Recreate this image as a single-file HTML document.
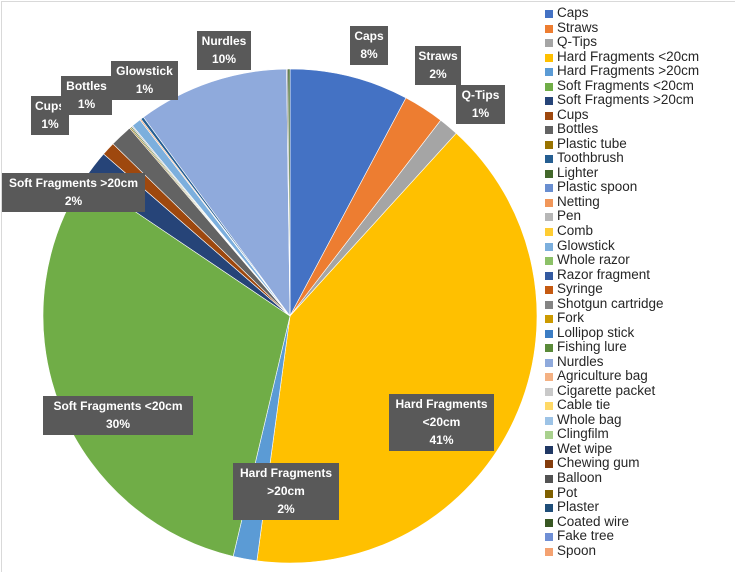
<!DOCTYPE html>
<html><head><meta charset="utf-8"><style>
html,body{margin:0;padding:0;background:#fff;}
body{width:735px;height:568px;overflow:hidden;position:relative;font-family:"Liberation Sans",sans-serif;}
#frame{position:absolute;left:1px;top:1px;width:740px;height:570px;border-left:1px solid #d9d9d9;border-top:1px solid #d9d9d9;}
.lb{position:absolute;background:#595959;color:#fff;font-weight:bold;font-size:12px;line-height:18px;text-align:center;white-space:nowrap;overflow:hidden;}
#leg{position:absolute;left:545px;top:6px;font-size:13.5px;color:#262626;}
#leg div{height:14.54px;line-height:14.54px;position:relative;padding-left:12px;white-space:nowrap;}
#leg span{position:absolute;left:0;top:4px;width:8px;height:8px;}
</style></head><body>
<div id="frame"></div>
<svg id="pie" width="735" height="568" style="position:absolute;left:0;top:0"></svg>
<div class="lb" style="left:350px;top:26px;width:38px;height:38px;padding-top:1px">Caps<br>8%</div>
<div class="lb" style="left:415px;top:46px;width:46px;height:38px;padding-top:1px">Straws<br>2%</div>
<div class="lb" style="left:456px;top:85px;width:49px;height:38px;padding-top:1px">Q-Tips<br>1%</div>
<div class="lb" style="left:197px;top:31px;width:54px;height:38px;padding-top:1px">Nurdles<br>10%</div>
<div class="lb" style="left:31px;top:96px;width:38px;height:38px;padding-top:1px">Cups<br>1%</div>
<div class="lb" style="left:61px;top:76px;width:51px;height:38px;padding-top:1px">Bottles<br>1%</div>
<div class="lb" style="left:111px;top:61px;width:67px;height:38px;padding-top:1px">Glowstick<br>1%</div>
<div class="lb" style="left:2px;top:173px;width:143px;height:38px;padding-top:1px">Soft Fragments &gt;20cm<br>2%</div>
<div class="lb" style="left:43px;top:396px;width:150px;height:38px;padding-top:1px">Soft Fragments &lt;20cm<br>30%</div>
<div class="lb" style="left:233px;top:463px;width:106px;height:56px;padding-top:1px">Hard Fragments<br>&gt;20cm<br>2%</div>
<div class="lb" style="left:389px;top:394px;width:105px;height:56px;padding-top:1px">Hard Fragments<br>&lt;20cm<br>41%</div>
<div id="leg"></div>
<script>
var cx=290,cy=316,r=247;
var sl=[
[0,28,"#4472C4"],[28,37.6,"#ED7D31"],[37.6,42.3,"#A5A5A5"],[42.3,187.7,"#FFC000"],
[187.7,193.3,"#5B9BD5"],[193.3,304,"#70AD47"],[304,311,"#264478"],[311,314.2,"#9E480E"],
[314.2,319.5,"#636363"],[319.5,319.8,"#997300"],[319.8,320.1,"#43682B"],[320.1,320.4,"#B7B7B7"],
[320.4,322.6,"#7CAFDD"],[322.6,322.9,"#F1975A"],[322.9,323.6,"#255E91"],[323.6,359.2,"#8FAADC"],
[359.2,359.5,"#636363"],[359.5,360,"#43682B"]];
var s="";
function pt(a){var t=a*Math.PI/180;return [cx+r*Math.sin(t),cy-r*Math.cos(t)];}
sl.forEach(function(q){var p=pt(q[0]),e=pt(q[1]);var la=(q[1]-q[0])>180?1:0;
s+='<path d="M'+cx+','+cy+' L'+p[0].toFixed(2)+','+p[1].toFixed(2)+' A'+r+','+r+' 0 '+la+' 1 '+e[0].toFixed(2)+','+e[1].toFixed(2)+' Z" fill="'+q[2]+'" stroke="#fff" stroke-width="0.6"/>';});
document.getElementById("pie").innerHTML=s;
var L=[["Caps","#4472C4"],["Straws","#ED7D31"],["Q-Tips","#A5A5A5"],["Hard Fragments <20cm","#FFC000"],["Hard Fragments >20cm","#5B9BD5"],["Soft Fragments <20cm","#70AD47"],["Soft Fragments >20cm","#264478"],["Cups","#9E480E"],["Bottles","#636363"],["Plastic tube","#997300"],["Toothbrush","#255E91"],["Lighter","#43682B"],["Plastic spoon","#698ED0"],["Netting","#F1975A"],["Pen","#B7B7B7"],["Comb","#FFCD33"],["Glowstick","#7CAFDD"],["Whole razor","#8CC168"],["Razor fragment","#335AA1"],["Syringe","#C55A11"],["Shotgun cartridge","#848484"],["Fork","#CC9A00"],["Lollipop stick","#3C7DC4"],["Fishing lure","#5A8A39"],["Nurdles","#8FAADC"],["Agriculture bag","#F4B183"],["Cigarette packet","#C9C9C9"],["Cable tie","#FFD966"],["Whole bag","#9DC3E6"],["Clingfilm","#A9D18E"],["Wet wipe","#203864"],["Chewing gum","#843C0C"],["Balloon","#525252"],["Pot","#7F6000"],["Plaster","#1F4E79"],["Coated wire","#385723"],["Fake tree","#6F8FD5"],["Spoon","#F4A271"]];
var h="";L.forEach(function(q){h+='<div><span style="background:'+q[1]+'"></span>'+q[0].replace("<","&lt;").replace(">","&gt;")+'</div>';});
document.getElementById("leg").innerHTML=h;
</script>
</body></html>
